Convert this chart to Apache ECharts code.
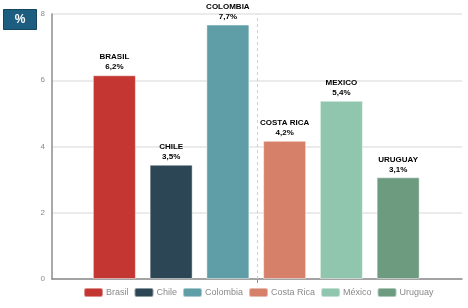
<!DOCTYPE html>
<html>
<head>
<meta charset="utf-8">
<script src="https://cdn.jsdelivr.net/npm/echarts@6/dist/echarts.min.js"></script>
<style>
  html, body { margin: 0; padding: 0; background: #fff; }
  #chart { width: 468px; height: 308px; }
</style>
</head>
<body>
<div id="chart"></div>
<script>
  // data
  var countries = ['Brasil', 'Chile', 'Colombia', 'Costa Rica', 'México', 'Uruguay'];
  var barLabels = ['BRASIL', 'CHILE', 'COLOMBIA', 'COSTA RICA', 'MEXICO', 'URUGUAY'];
  var pctLabels = ['6,2%', '3,5%', '7,7%', '4,2%', '5,4%', '3,1%'];
  var values = [6.15, 3.45, 7.68, 4.17, 5.38, 3.07];
  var colors = ['#c33631', '#2d4655', '#5f9ea6', '#d6806a', '#8fc6ad', '#6d9b80'];
  var yTicks = [0, 2, 4, 6, 8];

  var chart = echarts.init(document.getElementById('chart'));

  // one series per country so the legend lists each bar
  var series = countries.map(function (name, i) {
    var d = values.map(function (v, j) { return j === i ? v : '-'; });
    return {
      name: name,
      type: 'bar',
      xAxisIndex: 1,
      yAxisIndex: 1,
      stack: 'all',
      barWidth: 43,
      data: d,
      itemStyle: {
        color: colors[i],
        borderColor: 'rgba(255,255,255,0.45)',
        borderWidth: 1
      },
      label: {
        show: true,
        position: 'top',
        distance: 3,
        fontFamily: 'Liberation Sans',
        fontWeight: 'bold',
        fontSize: 8,
        lineHeight: 10,
        color: '#000',
        formatter: function (p) {
          return barLabels[p.dataIndex] + '\n' + pctLabels[p.dataIndex];
        }
      }
    };
  });

  // separator between the two groups
  series.push({
    name: 'sep',
    type: 'line',
    xAxisIndex: 0,
    yAxisIndex: 0,
    data: [],
    markLine: {
      silent: true,
      symbol: 'none',
      label: { show: false },
      lineStyle: { color: '#cfcfcf', type: [3, 3], width: 1 },
      data: [{ xAxis: 1 }]
    }
  });

  var option = {
    animation: false,
    textStyle: { fontFamily: 'Liberation Sans' },
    graphic: [{
      type: 'group',
      left: 3,
      top: 9,
      children: [{
        type: 'rect',
        shape: { x: 0, y: 0, width: 33, height: 20 },
        style: { fill: '#1d5d80', stroke: '#16465f', lineWidth: 1 }
      }, {
        type: 'text',
        x: 16.5,
        y: 10,
        style: {
          text: '%',
          fill: '#fff',
          font: 'bold 12px "Liberation Sans"',
          textAlign: 'center',
          textVerticalAlign: 'middle'
        }
      }]
    }],
    legend: {
      data: countries,
      left: 78,
      bottom: 5,
      itemWidth: 19,
      itemHeight: 9,
      itemGap: 5,
      icon: 'roundRect',
      textStyle: { color: '#8a8a8a', fontSize: 9, fontFamily: 'Liberation Sans', padding: [0, 0, 0, -2] }
    },
    grid: [
      { left: 52, right: 6, top: 14, bottom: 29 },
      { left: 86, right: 41.5, top: 14, bottom: 29 }
    ],
    xAxis: [{
      type: 'value',
      gridIndex: 0,
      min: 0,
      max: 2,
      interval: 1,
      axisLine: { show: true, lineStyle: { color: '#8c8c8c', width: 1.5 } },
      axisTick: { show: true, customValues: [1], length: 4, lineStyle: { color: '#8c8c8c' } },
      axisLabel: { show: false },
      splitLine: { show: false }
    }, {
      type: 'category',
      gridIndex: 1,
      data: barLabels,
      show: false
    }],
    yAxis: [{
      type: 'value',
      gridIndex: 0,
      min: 0,
      max: 8,
      interval: 2,
      axisLine: { show: true, lineStyle: { color: '#8c8c8c', width: 1.5 } },
      axisTick: { show: false },
      axisLabel: {
        color: '#8a8a8a',
        fontSize: 8,
        margin: 7,
        customValues: yTicks
      },
      splitLine: { lineStyle: { color: '#e4e4e4', width: 1.5 } }
    }, {
      type: 'value',
      gridIndex: 1,
      min: 0,
      max: 8,
      show: false
    }],
    series: series
  };

  chart.setOption(option);
</script>
</body>
</html>
